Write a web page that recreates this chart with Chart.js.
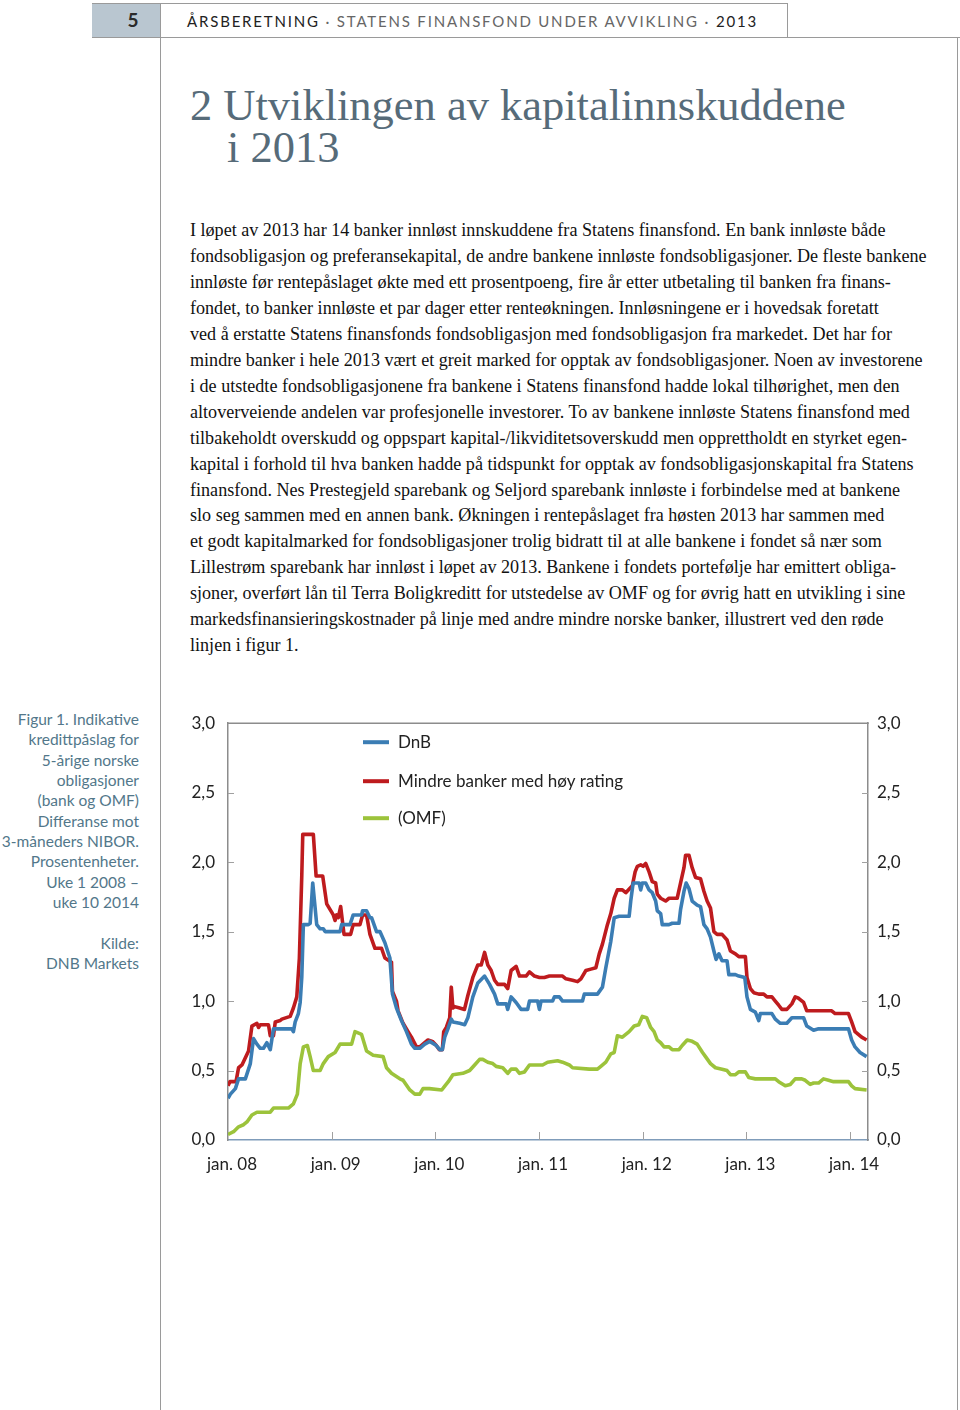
<!DOCTYPE html>
<html><head><meta charset="utf-8">
<script src="https://cdn.jsdelivr.net/npm/chart.js"></script>
<style>
html,body{margin:0;padding:0;background:#fff;}
body{width:960px;height:1410px;position:relative;overflow:hidden;}
.abs{position:absolute;}
.hline{position:absolute;height:0;border-top:1px solid #9a9a9a;}
.vline{position:absolute;width:0;border-left:1px solid #9a9a9a;}
#pagenum{left:92px;top:3px;width:68px;height:34px;background:#b9c6d0;font:bold 19px Lato,sans-serif;color:#2a2a2a;text-align:center;line-height:34px;}
#pagenum span{position:relative;left:7px;}
#hdr{left:187px;top:11px;font:15px Lato,sans-serif;color:#666;white-space:nowrap;letter-spacing:2.4px;line-height:20px;}
#hdr b{font-weight:normal;color:#222;}
.title{font-family:"Liberation Serif",serif;color:#566b79;white-space:nowrap;font-size:46px;line-height:46px;}
.body{left:190px;font-family:"Liberation Serif",serif;color:#111;white-space:nowrap;font-size:17px;line-height:26px;}
#cap{right:821px;top:709px;text-align:right;font:15.5px Lato,sans-serif;color:#52778a;line-height:20.33px;white-space:nowrap;}
#c{position:absolute;left:170px;top:700px;}
</style></head>
<body>
<div class="abs" id="pagenum"><span>5</span></div>
<div class="hline" style="left:92px;top:3px;width:695px;"></div>
<div class="vline" style="left:787px;top:3px;height:34px;"></div>
<div class="hline" style="left:92px;top:37px;width:868px;"></div>
<div class="vline" style="left:160px;top:3px;height:1407px;"></div>
<div class="vline" style="left:957px;top:37px;height:1373px;"></div>
<div class="abs" id="hdr"><b>ÅRSBERETNING</b> · STATENS FINANSFOND UNDER AVVIKLING · <b>2013</b></div>

<div class="abs title" id="t1" style="left:190px;top:82px;">2 Utviklingen av kapitalinnskuddene</div>
<div class="abs title" id="t2" style="left:227px;top:124px;">i 2013</div>

<div id="bodytext"></div>

<div class="abs" id="cap">Figur 1. Indikative<br>kredittpåslag for<br>5-årige norske<br>obligasjoner<br>(bank og OMF)<br>Differanse mot<br>3-måneders NIBOR.<br>Prosentenheter.<br>Uke 1 2008 –<br>uke 10 2014<br>&nbsp;<br>Kilde:<br>DNB Markets</div>

<canvas id="c" width="760" height="490"></canvas>

<script>
// ---------- data ----------
const tickWeeks = [0, 52, 104, 156, 208, 260, 312];
const tickLabels = ["jan. 08", "jan. 09", "jan. 10", "jan. 11", "jan. 12", "jan. 13", "jan. 14"];
const seriesLabels = ["DnB", "Mindre banker med høy rating", "(OMF)"];

// [week since jan. 2008, percentage points]
const dnb = [[0,0.30],[1.2,0.33],[3.7,0.37],[5.3,0.44],[8.7,0.44],[11.2,0.55],[12.8,0.73],[14.5,0.69],[16.2,0.66],[17.8,0.66],[19.5,0.70],[21.2,0.65],[22.8,0.80],[32,0.80],[32.8,0.78],[33.7,0.85],[35.3,0.91],[36.2,0.99],[37,1.17],[37.8,1.55],[40.3,1.55],[41.2,1.56],[42.5,1.85],[44.5,1.55],[46.2,1.52],[47.8,1.52],[48.7,1.50],[56.2,1.50],[57,1.55],[61.2,1.55],[62.8,1.62],[67,1.62],[67.5,1.65],[69.5,1.65],[71.2,1.60],[72,1.60],[74.5,1.50],[76.2,1.50],[78.7,1.42],[80.3,1.35],[81.2,1.31],[82.5,1.05],[84.5,0.95],[87,0.86],[89.5,0.78],[92,0.69],[93.7,0.66],[96.2,0.66],[98.7,0.69],[101.2,0.71],[104.5,0.68],[106.2,0.65],[107.5,0.65],[108.7,0.74],[110.3,0.80],[112,0.87],[112.8,0.85],[116.2,0.84],[118.7,0.83],[120.3,0.88],[122.8,1.03],[125.3,1.13],[128.7,1.18],[131.2,1.12],[133.7,1.05],[135.3,0.98],[139.5,0.98],[140.3,0.94],[142,1.03],[144.5,0.99],[147,0.94],[150.3,0.94],[151.2,1.00],[155.3,1.00],[156.2,0.94],[157,1.00],[162.8,1.00],[163.7,1.03],[166.2,1.03],[167.8,1.00],[177.8,1.00],[178.7,1.05],[185.3,1.05],[187.8,1.10],[189.5,1.24],[192,1.43],[193.7,1.60],[196.2,1.61],[201.2,1.61],[202,1.72],[203.2,1.85],[206.2,1.85],[207,1.80],[207.8,1.85],[209.5,1.85],[211.2,1.80],[212.8,1.78],[214.5,1.72],[215.3,1.65],[217,1.63],[217.8,1.55],[221.2,1.55],[222.8,1.56],[226.2,1.56],[227,1.66],[228.7,1.79],[229.8,1.85],[231.2,1.81],[232.8,1.72],[235.3,1.69],[237,1.68],[238.7,1.55],[240.3,1.52],[242,1.46],[243.7,1.36],[244.8,1.30],[246.2,1.34],[247.8,1.29],[250.3,1.29],[251.2,1.19],[254.5,1.19],[256.2,1.18],[259.2,1.17],[260.3,1.03],[262,0.94],[264.5,0.92],[266.2,0.86],[267,0.91],[272.8,0.91],[274.5,0.87],[277,0.84],[280.3,0.84],[282.8,0.88],[288.7,0.88],[290.3,0.82],[293.7,0.79],[296.2,0.80],[311.2,0.80],[312.8,0.72],[314.5,0.67],[317,0.63],[320.3,0.60]];

const mindreBanker = [[0,0.39],[1,0.42],[4,0.42],[5.3,0.52],[7,0.54],[10.3,0.64],[12,0.82],[14.5,0.84],[15.3,0.81],[16.2,0.83],[20.3,0.83],[21.2,0.75],[22.8,0.75],[23.7,0.85],[26.2,0.86],[27,0.87],[31.2,0.89],[32.8,0.95],[34.5,1.03],[35.8,1.31],[37,1.9],[37.5,2.2],[42.8,2.2],[44.2,1.9],[47.5,1.9],[49.5,1.7],[52.8,1.62],[53.7,1.58],[54.5,1.62],[55.3,1.60],[56.5,1.68],[58.2,1.48],[61.5,1.48],[62.8,1.55],[66.2,1.55],[67.5,1.62],[69.5,1.62],[71.2,1.48],[73.7,1.38],[77,1.38],[78.7,1.31],[82,1.28],[82.5,1.07],[84.5,1.0],[85.3,0.93],[87.8,0.84],[90.3,0.78],[92,0.74],[94.5,0.67],[96.2,0.67],[97.8,0.69],[100.3,0.72],[102.5,0.71],[104.5,0.68],[106,0.65],[107.5,0.65],[108.2,0.78],[109.5,0.81],[111.2,0.88],[112,1.10],[112.8,0.95],[113.7,0.96],[116.2,0.95],[118.6,0.94],[120.3,1.04],[122.8,1.17],[125.3,1.26],[127,1.26],[128.7,1.35],[130.3,1.26],[132,1.22],[133.7,1.15],[135.3,1.12],[138.7,1.12],[140.3,1.09],[142,1.22],[144.5,1.25],[146.2,1.18],[149.5,1.18],[151.2,1.21],[153.7,1.18],[156.2,1.17],[158.7,1.17],[161.2,1.18],[167.8,1.18],[169.5,1.16],[172.8,1.15],[175.3,1.14],[177,1.16],[179.5,1.22],[182,1.23],[184.5,1.24],[186.2,1.34],[187.8,1.41],[190.3,1.55],[192,1.63],[193.7,1.74],[195.3,1.80],[197.8,1.80],[199.5,1.78],[202.8,1.83],[204.2,1.93],[205.3,1.97],[207,1.98],[208.2,1.97],[209.5,1.99],[211.2,1.93],[212.8,1.86],[214.5,1.85],[215.3,1.77],[217,1.74],[219.5,1.72],[221.2,1.74],[225.3,1.74],[227,1.85],[228.7,1.96],[229.5,2.05],[231.2,2.05],[232.8,1.96],[234.5,1.89],[237,1.88],[238.7,1.79],[240.3,1.72],[242,1.67],[243.7,1.50],[245.3,1.48],[247.8,1.48],[250.3,1.44],[252,1.36],[254.5,1.34],[256.2,1.32],[259.5,1.32],[260.3,1.17],[262,1.09],[263.7,1.06],[266.2,1.05],[268.7,1.05],[270.3,1.03],[272.8,1.03],[274.5,1.00],[276.2,0.97],[277.8,0.94],[280.3,0.94],[282.8,0.98],[284.5,1.03],[286.2,1.02],[288.7,0.99],[290.3,0.93],[292.8,0.93],[302.8,0.93],[304.5,0.91],[311.2,0.91],[312.8,0.85],[314.5,0.78],[317.8,0.74],[320.3,0.72]];

const omf = [[0,0.04],[2.8,0.06],[5.3,0.095],[7.8,0.11],[9.5,0.13],[12,0.18],[14.5,0.20],[21.2,0.20],[22.8,0.23],[30.3,0.23],[32.8,0.26],[34.8,0.33],[36.2,0.55],[37.8,0.67],[39.8,0.68],[41.2,0.60],[42.8,0.50],[46.2,0.50],[47.8,0.55],[50.3,0.60],[53.7,0.63],[56.2,0.69],[62,0.69],[63.7,0.78],[67,0.76],[69.5,0.64],[72.8,0.61],[77.8,0.60],[79.5,0.52],[82,0.48],[86.2,0.44],[87.8,0.43],[91.2,0.36],[93.7,0.33],[96.2,0.33],[97.8,0.37],[101,0.37],[107.2,0.36],[108.8,0.39],[110.5,0.42],[112.8,0.47],[117.8,0.48],[121.2,0.50],[123.7,0.54],[126.2,0.58],[127.8,0.58],[130.3,0.56],[132.8,0.55],[134.5,0.53],[137.8,0.52],[140.3,0.48],[142,0.51],[144.5,0.51],[146.2,0.48],[148.7,0.49],[151.2,0.54],[157.8,0.54],[160.3,0.56],[165.3,0.57],[167.8,0.56],[171.2,0.54],[172.8,0.52],[181.2,0.51],[185.3,0.51],[187,0.53],[189.5,0.56],[192,0.62],[193.7,0.63],[195.3,0.75],[197.8,0.74],[201.2,0.78],[203.7,0.82],[206,0.83],[207.8,0.89],[210,0.88],[212,0.81],[213.7,0.78],[215.3,0.72],[217,0.70],[218.7,0.67],[221.2,0.67],[222.8,0.65],[226.2,0.65],[227.8,0.68],[230.3,0.72],[232.8,0.71],[235.3,0.69],[238,0.63],[239.5,0.60],[242,0.55],[244.5,0.52],[247.8,0.51],[250.3,0.50],[252,0.47],[254.5,0.47],[256.2,0.49],[259.5,0.49],[261.2,0.45],[264.5,0.44],[274.5,0.44],[276.2,0.42],[279.5,0.39],[282,0.40],[284.5,0.44],[287.8,0.44],[289.5,0.43],[292,0.40],[293.7,0.41],[296.2,0.41],[298.7,0.44],[301.2,0.43],[303.7,0.42],[311.2,0.42],[312.8,0.39],[314.5,0.37],[320.3,0.36]];

const bodyLines = [
"I løpet av 2013 har 14 banker innløst innskuddene fra Statens finansfond. En bank innløste både",
"fondsobligasjon og preferansekapital, de andre bankene innløste fondsobligasjoner. De fleste bankene",
"innløste før rentepåslaget økte med ett prosentpoeng, fire år etter utbetaling til banken fra finans-",
"fondet, to banker innløste et par dager etter renteøkningen. Innløsningene er i hovedsak foretatt",
"ved å erstatte Statens finansfonds fondsobligasjon med fondsobligasjon fra markedet. Det har for",
"mindre banker i hele 2013 vært et greit marked for opptak av fondsobligasjoner. Noen av investorene",
"i de utstedte fondsobligasjonene fra bankene i Statens finansfond hadde lokal tilhørighet, men den",
"altoverveiende andelen var profesjonelle investorer. To av bankene innløste Statens finansfond med",
"tilbakeholdt overskudd og oppspart kapital-/likviditetsoverskudd men opprettholdt en styrket egen-",
"kapital i forhold til hva banken hadde på tidspunkt for opptak av fondsobligasjonskapital fra Statens",
"finansfond. Nes Prestegjeld sparebank og Seljord sparebank innløste i forbindelse med at bankene",
"slo seg sammen med en annen bank. Økningen i rentepåslaget fra høsten 2013 har sammen med",
"et godt kapitalmarked for fondsobligasjoner trolig bidratt til at alle bankene i fondet så nær som",
"Lillestrøm sparebank har innløst i løpet av 2013. Bankene i fondets portefølje har emittert obliga-",
"sjoner, overført lån til Terra Boligkreditt for utstedelse av OMF og for øvrig hatt en utvikling i sine",
"markedsfinansieringskostnader på linje med andre mindre norske banker, illustrert ved den røde",
"linjen i figur 1."
];

// ---------- text layout ----------
const bt = document.getElementById('bodytext');
bodyLines.forEach((s, i) => {
  const d = document.createElement('div');
  d.className = 'abs body';
  d.style.top = (217 + i * 25.95) + 'px';
  d.textContent = s;
  bt.appendChild(d);
});
function fit(el, target) {
  const w = el.getBoundingClientRect().width;
  return parseFloat(getComputedStyle(el).fontSize) * target / w;
}
const fsBody = fit(bt.children[1], 737);
for (const d of bt.children) d.style.fontSize = fsBody + 'px';
const t1 = document.getElementById('t1'), t2 = document.getElementById('t2');
const fsT = fit(t1, 656);
t1.style.fontSize = t2.style.fontSize = fsT + 'px';
const hdr = document.getElementById('hdr');
const hw = hdr.getBoundingClientRect().width;
hdr.style.letterSpacing = (2.4 + (571 - hw) / 56) + 'px';

// ---------- chart ----------
const FONT = 'Lato, sans-serif';
const toXY = arr => arr.map(p => ({x: p[0], y: p[1]}));
const fmt = v => v.toFixed(1).replace('.', ',');

const frame = {
  id: 'frame',
  beforeDatasetsDraw(chart) {
    const {ctx, chartArea: a, scales} = chart;
    ctx.save();
    ctx.strokeStyle = '#8c8c8c';
    ctx.lineWidth = 1.5;
    ctx.beginPath();
    ctx.moveTo(a.left, a.top); ctx.lineTo(a.right + 0.75, a.top);
    ctx.stroke();
    ctx.lineWidth = 1;
    ctx.strokeStyle = '#a0a0a0';
    ctx.beginPath();
    scales.y.ticks.forEach(t => {
      if (t.value <= 0 || t.value >= 3) return;
      const y = Math.round(scales.y.getPixelForValue(t.value)) + 0.5;
      ctx.moveTo(a.left, y); ctx.lineTo(a.left + 6, y);
      ctx.moveTo(a.right, y); ctx.lineTo(a.right - 6, y);
    });
    scales.x.ticks.forEach(t => {
      if (t.value <= 0) return;
      const x = Math.round(scales.x.getPixelForValue(t.value)) + 0.5;
      ctx.moveTo(x, a.bottom); ctx.lineTo(x, a.bottom - 8);
    });
    ctx.stroke();
    ctx.restore();
  },
  afterDraw(chart) {
    const {ctx, chartArea: a} = chart;
    ctx.save();
    ctx.font = '17px ' + FONT;
    ctx.textBaseline = 'middle';
    const rows = [19, 58, 95];
    chart.data.datasets.forEach((ds, i) => {
      const y = a.top + rows[i];
      ctx.strokeStyle = ds.borderColor;
      ctx.lineWidth = 4;
      ctx.beginPath();
      ctx.moveTo(a.left + 135, y); ctx.lineTo(a.left + 161, y);
      ctx.stroke();
      ctx.fillStyle = '#222';
      ctx.fillText(ds.label, a.left + 170, y);
    });
    ctx.restore();
  }
};

const yAxis = (pos, width, pad) => ({
  position: pos, min: 0, max: 3,
  ticks: {stepSize: 0.5, callback: v => fmt(v), font: {family: FONT, size: 17}, color: '#222', padding: pad},
  grid: {display: false, drawTicks: false},
  border: {display: true, color: '#8c8c8c', width: 1.5},
  afterFit: s => { s.width = width; }
});

new Chart(document.getElementById('c'), {
  type: 'line',
  data: {
    datasets: [
      {label: seriesLabels[0], data: toXY(dnb), borderColor: '#3b7db4'},
      {label: seriesLabels[1], data: toXY(mindreBanker), borderColor: '#be1b1e'},
      {label: seriesLabels[2], data: toXY(omf), borderColor: '#9cc33b'}
    ]
  },
  options: {
    responsive: false, animation: false,
    layout: {padding: {top: 21, left: 0, right: 0, bottom: 0}},
    elements: {point: {radius: 0}, line: {borderWidth: 3.6, tension: 0, borderJoinStyle: 'round'}},
    plugins: {legend: {display: false}, tooltip: {enabled: false}},
    scales: {
      x: {
        type: 'linear', min: 0, max: 321,
        afterBuildTicks: s => { s.ticks = tickWeeks.map(v => ({value: v})); },
        ticks: {callback: v => tickLabels[tickWeeks.indexOf(v)], font: {family: FONT, size: 17}, color: '#222', padding: 14, maxRotation: 0, autoSkip: false, labelOffset: 4},
        grid: {display: false, drawTicks: false},
        border: {display: true, color: '#7f9cba', width: 1.5, dash: [2, 2]},
        afterFit: s => { s.height = 50; }
      },
      y: yAxis('left', 58, 13),
      y2: yAxis('right', 62, 9)
    }
  },
  plugins: [frame]
});
</script>
</body></html>
